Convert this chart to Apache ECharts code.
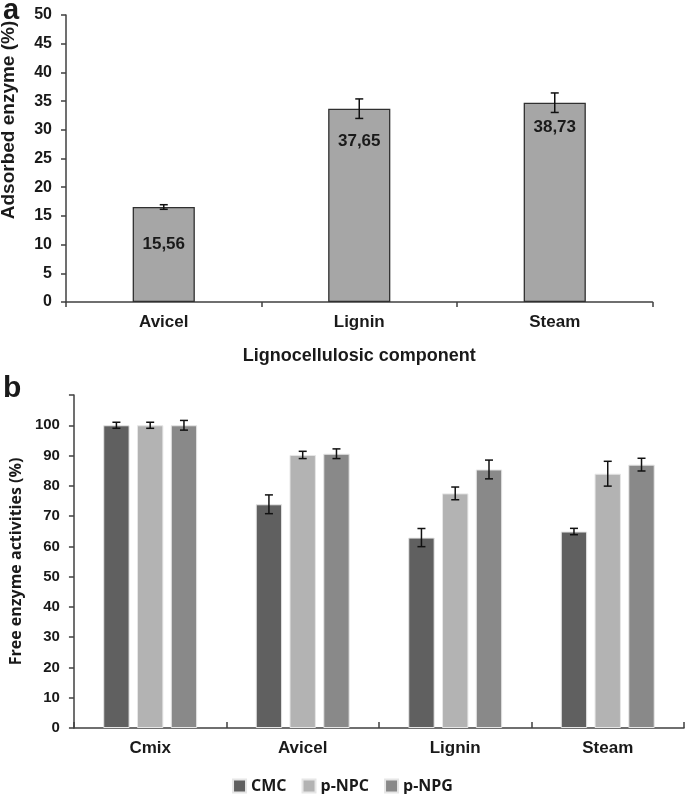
<!DOCTYPE html>
<html>
<head>
<meta charset="utf-8">
<script src="https://cdn.jsdelivr.net/npm/echarts@6/dist/echarts.min.js"></script>
<style>
html,body{margin:0;padding:0;background:#fff;}
#chart{width:685px;height:794px;}
</style>
</head>
<body>
<div id="chart"></div>
<script>
// ---- Panel a data ----
const categoriesA = ['Avicel', 'Lignin', 'Steam'];
const adsorbed = [16.55, 33.68, 34.72];
const adsorbedErr = [0.4, 1.7, 1.7];
const adsorbedLabels = ['15,56', '37,65', '38,73'];
const ticksA = [0, 5, 10, 15, 20, 25, 30, 35, 40, 45, 50];

// ---- Panel b data ----
const categoriesB = ['Cmix', 'Avicel', 'Lignin', 'Steam'];
const seriesNames = ['CMC', 'p-NPC', 'p-NPG'];
const cmc = [100, 73.9, 62.9, 64.9];
const cmcErr = [1.0, 3.1, 3.0, 1.05];
const pnpc = [100, 90.2, 77.5, 84.0];
const pnpcErr = [1.0, 1.2, 2.1, 4.1];
const pnpg = [100, 90.6, 85.4, 87.0];
const pnpgErr = [1.6, 1.6, 3.1, 2.1];
const ticksB = [0, 10, 20, 30, 40, 50, 60, 70, 80, 90, 100];

// ---- styles ----
const txt = '#1a1a1a';
const axisCol = '#404040';
const colorsB = ['#606060', '#b3b3b3', '#898989'];
const labelDistA = [29, 24, 16];
const BAR_W_B = 0.173, GAP_B = 0.28;

function errRender(offsetFn, cap) {
  return function (params, api) {
    const i = api.value(0);
    const band = api.size([1, 0])[0];
    const off = offsetFn(band);
    const lo = api.coord([i, api.value(1)]);
    const hi = api.coord([i, api.value(2)]);
    const x = lo[0] + off;
    const st = { stroke: '#111', lineWidth: 1.5 };
    return {
      type: 'group',
      children: [
        { type: 'line', shape: { x1: x, y1: lo[1], x2: x, y2: hi[1] }, style: st },
        { type: 'line', shape: { x1: x - cap, y1: lo[1], x2: x + cap, y2: lo[1] }, style: st },
        { type: 'line', shape: { x1: x - cap, y1: hi[1], x2: x + cap, y2: hi[1] }, style: st }
      ]
    };
  };
}

const seriesB = [cmc, pnpc, pnpg];
const errsB = [cmcErr, pnpcErr, pnpgErr];

const series = [
  {
    type: 'bar', name: 'adsorbed', xAxisIndex: 0, yAxisIndex: 0,
    barWidth: '31.8%',
    itemStyle: { color: '#a6a6a6', borderColor: '#303030', borderWidth: 1.3 },
    data: adsorbed.map((v, i) => ({
      value: v,
      label: { show: true, position: 'insideTop', distance: labelDistA[i],
        formatter: () => adsorbedLabels[i],
        fontFamily: 'Liberation Sans, Arial, sans-serif', fontWeight: 'bold', fontSize: 17, color: txt }
    }))
  },
  {
    type: 'custom', name: 'errA', xAxisIndex: 0, yAxisIndex: 0, z: 10,
    renderItem: errRender(() => 0, 4),
    data: adsorbed.map((v, i) => [i, v - adsorbedErr[i], v + adsorbedErr[i]])
  }
];

seriesB.forEach((vals, s) => {
  series.push({
    type: 'bar', name: seriesNames[s], xAxisIndex: 1, yAxisIndex: 1,
    barWidth: (BAR_W_B * 100) + '%', barGap: (GAP_B * 100) + '%',
    itemStyle: { color: colorsB[s], borderColor: '#e6e6e6', borderWidth: 1 },
    data: vals
  });
});
seriesB.forEach((vals, s) => {
  series.push({
    type: 'custom', name: 'errB' + s, xAxisIndex: 1, yAxisIndex: 1, z: 10,
    renderItem: errRender(band => {
      const w = BAR_W_B * band;
      return (s - 1) * (w + GAP_B * w);
    }, 4),
    data: vals.map((v, i) => [i, v - errsB[s][i], v + errsB[s][i]])
  });
});

const tickFont = { fontFamily: 'Liberation Sans, Arial, sans-serif', fontWeight: 'bold', color: txt };

const option = {
  animation: false,
  backgroundColor: '#ffffff',
  grid: [
    { left: 66, right: 32.5, top: 15, bottom: 492 },
    { left: 68, right: 1, top: 395, bottom: 66 }
  ],
  legend: {
    data: seriesNames,
    left: 'center', top: 778, padding: 0,
    icon: 'rect', itemWidth: 13, itemHeight: 13, itemGap: 15,
    textStyle: { fontFamily: 'Open Sans, sans-serif', fontWeight: 'bold', fontSize: 16, color: txt }
  },
  xAxis: [
    {
      type: 'category', gridIndex: 0, data: categoriesA,
      axisLine: { lineStyle: { color: axisCol, width: 1.5 } },
      axisTick: { show: true, inside: false, length: 5, alignWithLabel: false, lineStyle: { color: axisCol, width: 1.5 } },
      axisLabel: Object.assign({ fontSize: 17, margin: 12 }, tickFont),
      name: 'Lignocellulosic component', nameLocation: 'middle', nameGap: 45,
      nameTextStyle: { fontFamily: 'Liberation Sans, Arial, sans-serif', fontWeight: 'bold', fontSize: 18, color: txt }
    },
    {
      type: 'category', gridIndex: 1, data: categoriesB,
      axisLine: { lineStyle: { color: axisCol, width: 1.5 } },
      axisTick: { show: true, inside: true, length: 6, lineStyle: { color: axisCol, width: 1.5 } },
      axisLabel: Object.assign({ fontSize: 17, margin: 12 }, tickFont)
    }
  ],
  yAxis: [
    {
      type: 'value', gridIndex: 0, min: ticksA[0], max: ticksA[ticksA.length - 1], interval: 5,
      splitLine: { show: false },
      axisLine: { show: true, lineStyle: { color: axisCol, width: 1.5 } },
      axisTick: { show: true, length: 5, lineStyle: { color: axisCol, width: 1.5 } },
      axisLabel: Object.assign({ fontSize: 16, margin: 14 }, tickFont)
    },
    {
      type: 'value', gridIndex: 1, min: 0, max: 110, interval: 10,
      splitLine: { show: false },
      axisLine: { show: true, lineStyle: { color: axisCol, width: 1.5 } },
      axisTick: { show: true, length: 5, lineStyle: { color: axisCol, width: 1.5 } },
      axisLabel: Object.assign({ fontSize: 15, margin: 14,
        formatter: v => (ticksB.indexOf(v) >= 0 ? String(v) : '') }, tickFont),
      name: 'Free enzyme activities (%)', nameLocation: 'middle', nameGap: 46,
      nameTextStyle: { fontFamily: 'Open Sans, sans-serif', fontWeight: 'bold', fontSize: 16, color: txt }
    }
  ],
  graphic: [
    { type: 'text', x: 3, y: -4, style: { text: 'a', font: 'bold 29px "Liberation Sans", Arial, sans-serif', fill: txt } },
    { type: 'text', x: 3, y: 374, style: { text: 'b', font: 'bold 30px "Liberation Sans", Arial, sans-serif', fill: txt } },
    { type: 'text', x: 9, y: 120, rotation: Math.PI / 2,
      style: { text: 'Adsorbed enzyme (%)', font: 'bold 19px "Liberation Sans", Arial, sans-serif', fill: txt,
        align: 'center', verticalAlign: 'middle' } }
  ],
  series: series
};

const chart = echarts.init(document.getElementById('chart'), null, { renderer: 'canvas' });
chart.setOption(option);
</script>
</body>
</html>
